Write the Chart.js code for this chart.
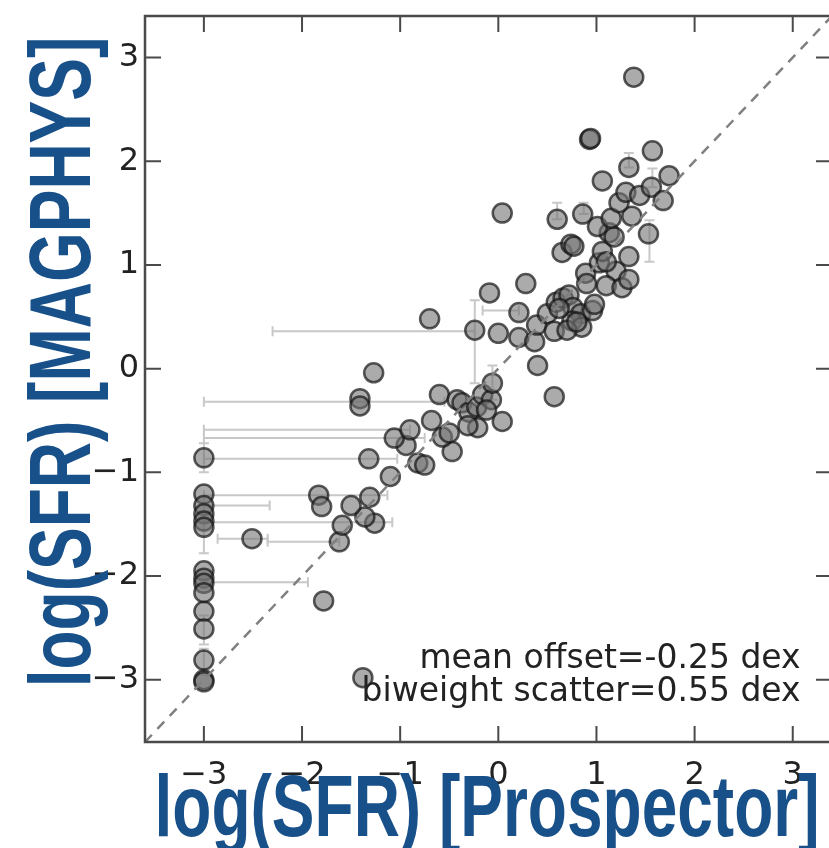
<!DOCTYPE html>
<html>
<head>
<meta charset="utf-8">
<script src="https://cdn.jsdelivr.net/npm/chart.js@4.4.0/dist/chart.umd.min.js"></script>
<style>
  html, body { margin: 0; padding: 0; background: #fff; overflow: hidden; }
  canvas { display: block; }
</style>
</head>
<body>
<canvas id="chart" width="844" height="848"></canvas>
<script>
const tickValues = [-3, -2, -1, 0, 1, 2, 3];
const axisMin = -3.6;
const axisMax = 3.4;
const xTitle = 'log(SFR) [Prospector]';
const yTitle = 'log(SFR) [MAGPHYS]';
const statLines = ['mean offset=-0.25 dex', 'biweight scatter=0.55 dex'];

// galaxies pinned at the Prospector floor of -3
const floorX = -3;
const floorY = [-0.86, -1.21, -1.32, -1.40, -1.47, -1.53, -1.95, -2.02, -2.07, -2.16, -2.34, -2.51, -2.81, -3.00, -3.02];

const galaxyX = [
  -2.51, -1.62, -1.78, -1.38, -1.59, -1.26, -1.36, -1.50, -1.31, -1.83,
  -1.80, -1.10, -1.32, -0.82, -0.75, -0.47, -0.94, -1.06, -0.90, -0.57,
  -0.50, -0.68, -1.41, -1.41, -1.27, -0.60, -0.42, -0.37, -0.30, -0.22,
  -0.16, -0.07, -0.06, -0.21, -0.31, 0.04, -0.70, -0.24, 0.00, -0.09,
  0.28, 0.21, 0.21, 0.37, 0.39, 0.40, 0.57, 0.50, 0.57, 0.59,
  0.66, 0.72, 0.76, 0.84, 0.75, 0.85, 0.70, 0.96, 0.89, 0.90,
  1.03, 1.06, 1.20, 1.10, 1.26, 1.33, 1.33, 0.65, 0.74, 0.77,
  1.13, 1.18, 1.01, 1.15, 1.36, 1.53, 0.60, 0.86, 0.04, 1.06,
  1.23, 1.30, 1.44, 1.56, 1.68, 1.74, 1.33, 1.57, 0.93, 0.94,
  1.38, 1.10, 0.98, 0.62, 0.80, -0.12
];
const galaxyY = [
  -1.64, -1.67, -2.24, -2.98, -1.51, -1.49, -1.43, -1.32, -1.24, -1.22,
  -1.33, -1.04, -0.87, -0.91, -0.93, -0.80, -0.74, -0.67, -0.59, -0.66,
  -0.62, -0.50, -0.29, -0.36, -0.04, -0.25, -0.30, -0.33, -0.42, -0.37,
  -0.25, -0.30, -0.14, -0.57, -0.55, -0.51, 0.48, 0.37, 0.34, 0.73,
  0.82, 0.54, 0.30, 0.26, 0.42, 0.03, -0.27, 0.53, 0.36, 0.64,
  0.68, 0.71, 0.59, 0.53, 0.46, 0.40, 0.37, 0.56, 0.92, 0.82,
  1.02, 1.13, 0.94, 0.80, 0.78, 0.86, 1.08, 1.12, 1.20, 1.18,
  1.31, 1.27, 1.37, 1.45, 1.47, 1.30, 1.44, 1.49, 1.50, 1.81,
  1.60, 1.70, 1.67, 1.75, 1.62, 1.86, 1.94, 2.10, 2.21, 2.22,
  2.81, 1.03, 0.62, 0.58, 0.45, -0.40
];

// horizontal error bars: [y, x from, x to]
const xErrBars = [
  [-0.32, -3.00, -0.55], [0.36, -2.30, -0.24], [0.56, -0.16, 0.21],
  [-0.59, -3.00, -0.90], [-0.67, -3.00, -0.75], [-0.87, -3.00, -1.03],
  [-1.22, -3.00, -1.13], [-1.32, -3.00, -2.33], [-1.48, -3.00, -1.08],
  [-1.64, -2.86, -2.35], [-1.67, -2.35, -1.62], [-2.06, -3.00, -1.94]
];
// vertical error bars: [x, y from, y to]
const yErrBars = [
  [-0.24, -0.14, 0.66], [1.54, 1.03, 1.43], [1.33, 1.94, 2.08],
  [0.60, 1.44, 1.60], [0.87, 1.49, 1.60], [1.57, 1.75, 1.93],
  [-0.06, -0.30, 0.03], [-3.00, -1.00, -0.72], [-3.00, -1.78, -1.38],
  [-3.00, -2.66, -2.38], [-3.00, -2.95, -2.70]
];

const points = galaxyX.map((x, i) => ({x: x, y: galaxyY[i]}))
  .concat(floorY.map(y => ({x: floorX, y: y})));

const frameColor = '#4a4a4a';

const decorations = {
  id: 'decorations',
  beforeDatasetsDraw(chart) {
    const {ctx, scales: {x, y}} = chart;
    ctx.save();
    ctx.strokeStyle = '#c8c8c8';
    ctx.lineWidth = 2;
    const cap = 5;
    xErrBars.forEach(([yv, a, b]) => {
      const py = y.getPixelForValue(yv);
      const pa = x.getPixelForValue(a), pb = x.getPixelForValue(b);
      ctx.beginPath();
      ctx.moveTo(pa, py); ctx.lineTo(pb, py);
      ctx.moveTo(pa, py - cap); ctx.lineTo(pa, py + cap);
      ctx.moveTo(pb, py - cap); ctx.lineTo(pb, py + cap);
      ctx.stroke();
    });
    yErrBars.forEach(([xv, a, b]) => {
      const px = x.getPixelForValue(xv);
      const pa = y.getPixelForValue(a), pb = y.getPixelForValue(b);
      ctx.beginPath();
      ctx.moveTo(px, pa); ctx.lineTo(px, pb);
      ctx.moveTo(px - cap, pa); ctx.lineTo(px + cap, pa);
      ctx.moveTo(px - cap, pb); ctx.lineTo(px + cap, pb);
      ctx.stroke();
    });
    ctx.restore();
  },
  afterDraw(chart) {
    const {ctx, chartArea: area, scales: {x, y}} = chart;
    ctx.save();
    // frame + inward ticks on all four sides
    ctx.strokeStyle = frameColor;
    ctx.lineWidth = 2.5;
    ctx.strokeRect(area.left, area.top, area.right - area.left, area.bottom - area.top);
    ctx.lineWidth = 2;
    const tl = 16;
    tickValues.forEach(v => {
      const px = x.getPixelForValue(v), py = y.getPixelForValue(v);
      ctx.beginPath();
      ctx.moveTo(px, area.bottom); ctx.lineTo(px, area.bottom - tl);
      ctx.moveTo(px, area.top); ctx.lineTo(px, area.top + tl);
      ctx.moveTo(area.left, py); ctx.lineTo(area.left + tl, py);
      ctx.moveTo(area.right, py); ctx.lineTo(area.right - tl, py);
      ctx.stroke();
    });

    // stats text
    ctx.fillStyle = '#222';
    ctx.font = '33px "DejaVu Sans"';
    ctx.textAlign = 'right';
    ctx.textBaseline = 'alphabetic';
    ctx.fillText(statLines[0], x.getPixelForValue(3.08), y.getPixelForValue(-2.885));
    ctx.fillText(statLines[1], x.getPixelForValue(3.08), y.getPixelForValue(-3.2));

    // axis titles, drawn a bit condensed like the original
    ctx.fillStyle = '#18508a';
    ctx.font = 'bold 64px "Liberation Sans", Arial, sans-serif';
    ctx.textAlign = 'center';
    ctx.save();
    ctx.translate(487, 836);
    ctx.scale(1, 1.35);
    ctx.fillText(xTitle, 0, 0);
    ctx.restore();
    ctx.save();
    ctx.translate(90, 362);
    ctx.rotate(-Math.PI / 2);
    ctx.scale(1, 1.35);
    ctx.fillText(yTitle, 0, 0);
    ctx.restore();
    ctx.restore();
  }
};

const tickFont = {family: 'DejaVu Sans', size: 32};
const fmt = v => (v < 0 ? '\u2212' + Math.abs(v) : String(v));

function axis(isX) {
  return {
    type: 'linear',
    min: axisMin,
    max: axisMax,
    grid: {display: false, drawTicks: false},
    border: {display: false},
    afterBuildTicks: s => { s.ticks = tickValues.map(v => ({value: v})); },
    afterFit: s => {
      if (isX) s.height = 106; else s.width = 145;
      s.paddingLeft = s.paddingRight = s.paddingTop = s.paddingBottom = 0;
    },
    ticks: {
      autoSkip: false,
      maxRotation: 0,
      padding: isX ? 14 : 6,
      color: '#222',
      font: tickFont,
      callback: fmt
    }
  };
}

new Chart(document.getElementById('chart'), {
  type: 'scatter',
  data: {
    datasets: [
      {
        type: 'line',
        data: [{x: axisMin, y: axisMin}, {x: axisMax, y: axisMax}],
        borderColor: '#808080',
        borderWidth: 2.5,
        borderDash: [10, 8],
        pointRadius: 0,
        fill: false,
        order: 0
      },
      {
        data: points,
        backgroundColor: 'rgba(115,115,115,0.6)',
        borderColor: 'rgba(20,20,20,0.7)',
        borderWidth: 2.5,
        pointRadius: 9.5,
        order: 1
      }
    ]
  },
  options: {
    responsive: false,
    animation: false,
    devicePixelRatio: 1,
    layout: {padding: {top: 16, right: 0, bottom: 0, left: 0}},
    plugins: {legend: {display: false}, tooltip: {enabled: false}},
    scales: {x: axis(true), y: axis(false)}
  },
  plugins: [decorations]
});
</script>
</body>
</html>
